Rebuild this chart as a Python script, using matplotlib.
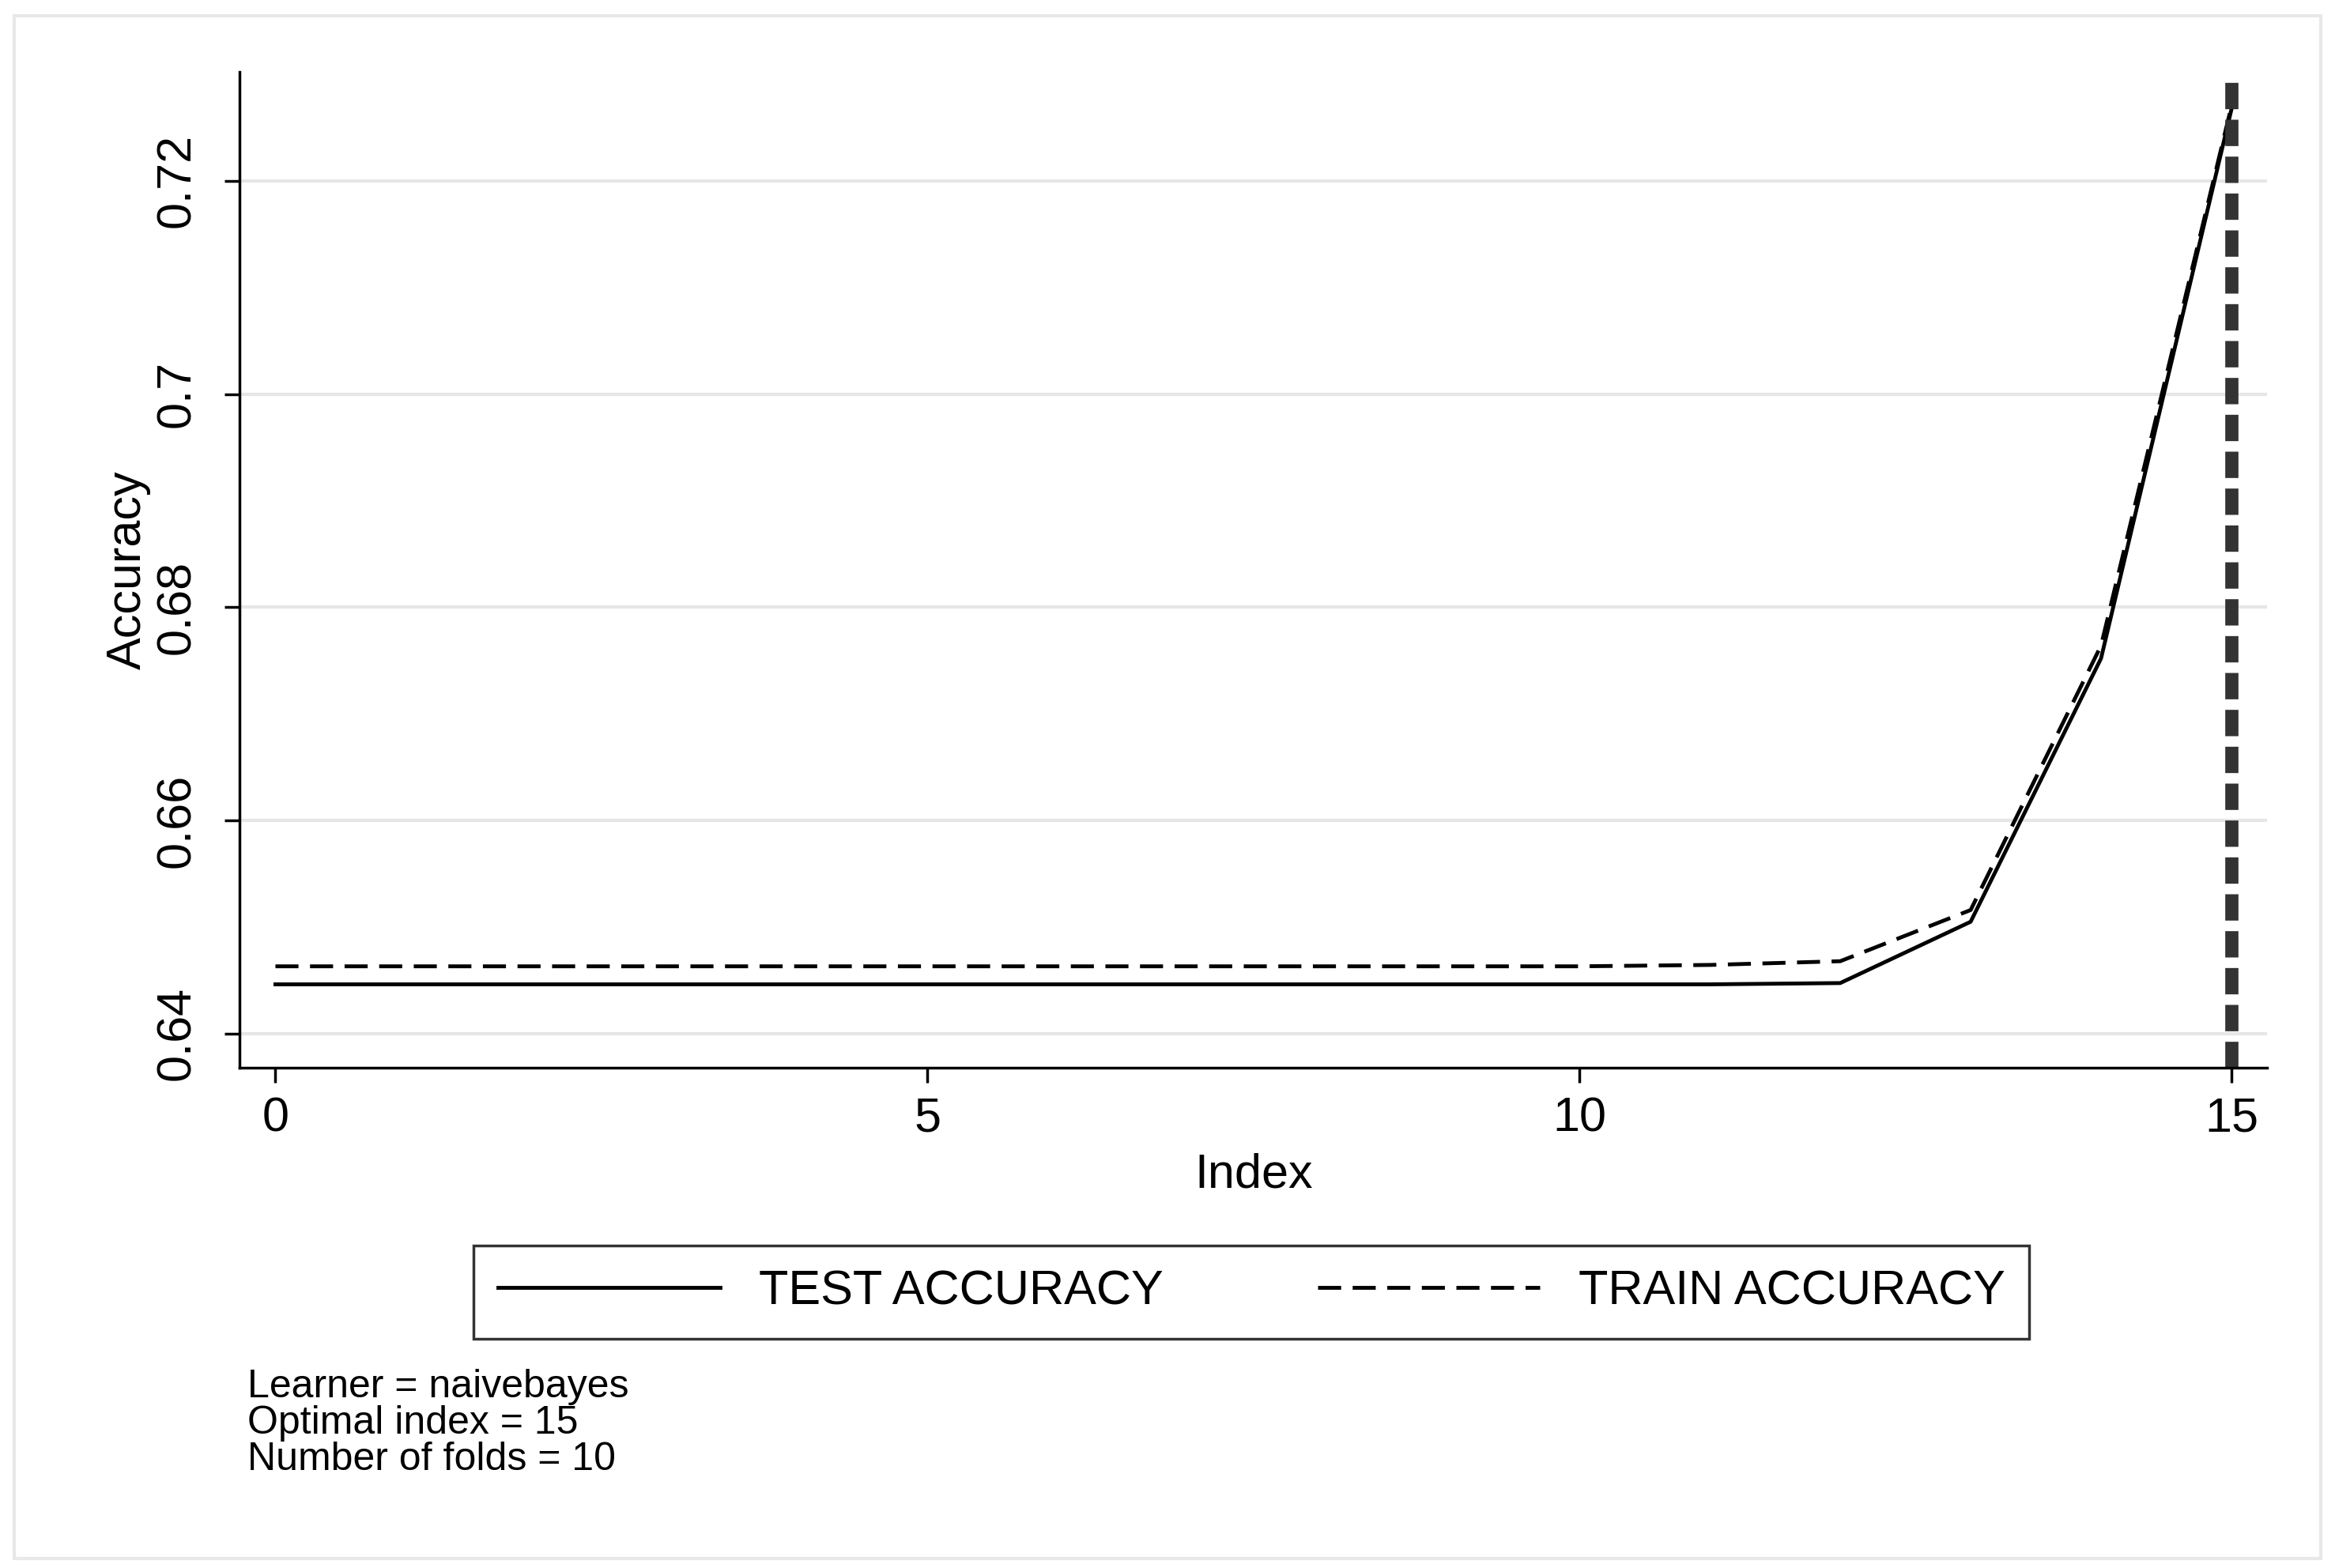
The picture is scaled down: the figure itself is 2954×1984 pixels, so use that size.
import matplotlib
matplotlib.use("Agg")
import matplotlib.pyplot as plt
from matplotlib.patches import Rectangle

plt.rcParams['font.family'] = ['Liberation Sans', 'DejaVu Sans']

index = list(range(16))
test_acc = [0.64463] * 12 + [0.64475, 0.6505, 0.6752, 0.7267]
train_acc = [0.64632] * 11 + [0.64645, 0.6468, 0.6516, 0.6764, 0.7270]
optimal_index = 15
yticks = [0.64, 0.66, 0.68, 0.70, 0.72]
ytick_labels = ['0.64', '0.66', '0.68', '0.7', '0.72']
notes = ['Learner = naivebayes', 'Optimal index = 15', 'Number of folds = 10']

fig = plt.figure(figsize=(29.54, 19.84), dpi=100)
fig.patches.append(Rectangle((0.006, 0.006), 0.988, 0.984, transform=fig.transFigure,
                             fill=False, edgecolor='#e8e8e8', linewidth=3))
ax = fig.add_axes([0.1026, 0.319, 0.8684, 0.635])

ax.plot(index, test_acc, color='black', linewidth=3.5, label='TEST ACCURACY')
ax.plot(index, train_acc, color='black', linewidth=3.5, linestyle=(0, (6, 3)), label='TRAIN ACCURACY')
ax.axvline(optimal_index, color='#333333', linewidth=12, linestyle=(0, (2.0, 0.8)))

ax.set_xlim(-0.275, 15.275)
ax.set_ylim(0.6368, 0.7302)
ax.set_xticks([0, 5, 10, 15])
ax.set_yticks(yticks)
ax.set_yticklabels(ytick_labels, rotation=90, va='center')
ax.grid(axis='y', color='#e6e6e6', linewidth=3)
ax.set_axisbelow(True)
for s in ['top', 'right']:
    ax.spines[s].set_visible(False)
for s in ['left', 'bottom']:
    ax.spines[s].set_linewidth(2.5)
ax.tick_params(labelsize=44, width=2.5, length=14, pad=12)
ax.tick_params(axis='y', pad=22)
ax.set_xlabel('Index', fontsize=44, labelpad=10)
ax.set_ylabel('Accuracy', fontsize=44, labelpad=4)

leg = fig.legend(loc='center', bbox_to_anchor=(0.536, 0.176), ncol=2, fontsize=44,
                 frameon=True, fancybox=False, edgecolor='black', handlelength=4.6,
                 columnspacing=3.2, borderpad=0.5)
leg.get_frame().set_linewidth(2.5)

fig.text(0.106, 0.127, '\n'.join(notes), fontsize=36, va='top', linespacing=1.0)

fig.savefig('out.png', dpi=100, facecolor='white')
